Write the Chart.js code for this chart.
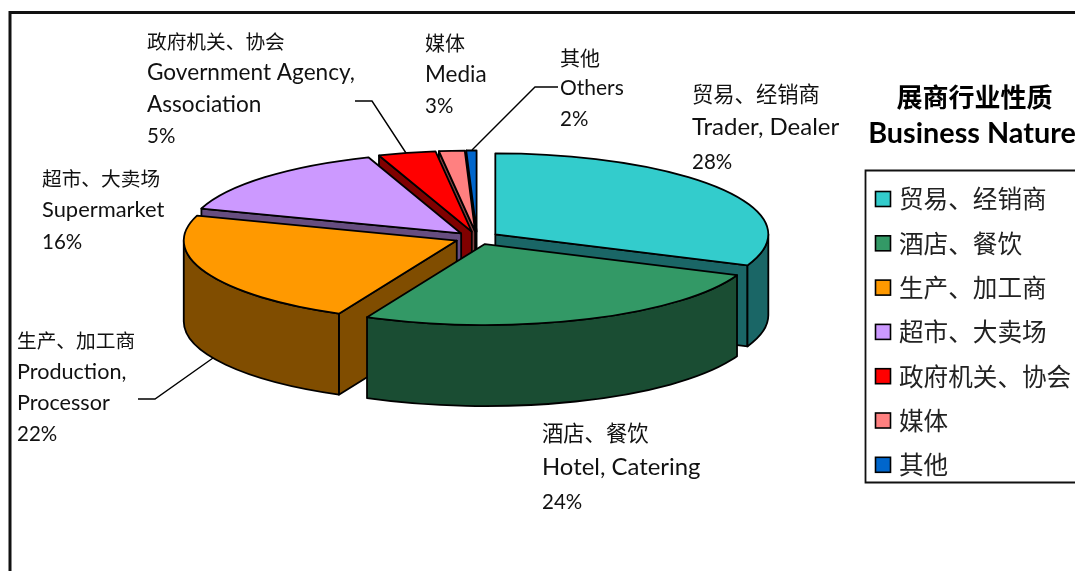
<!DOCTYPE html>
<html><head><meta charset="utf-8">
<style>html,body{margin:0;padding:0;background:#fff;overflow:hidden}canvas{display:block}</style>
<script src="https://cdn.jsdelivr.net/npm/chart.js@4"></script>
</head><body>
<canvas id="c" width="1075" height="571"></canvas>
<script>
const categories = ['贸易、经销商','酒店、餐饮','生产、加工商','超市、大卖场','政府机关、协会','媒体','其他'];
const englishLines = [['Trader, Dealer'],['Hotel, Catering'],['Production,','Processor'],['Supermarket'],['Government Agency,','Association'],['Media'],['Others']];
const shares = [28,24,22,16,5,3,2];
const topColors = ['#33CCCC','#339966','#FF9900','#CC99FF','#FF0000','#FF8080','#0066CC'];
const wallColors = ['#1A6666','#1A4D33','#804D00','#664D80','#800000','#804040','#003366'];
const titleLines = ['展商行业性质','Business Nature'];

const RX = 273, RY = 81, DEPTH = 81;
const LATIN = "Lato, 'Noto Sans CJK SC', sans-serif";
const CJK = "'Noto Sans CJK SC', sans-serif";
const labelStyle = [
 {x:692,ys:[94,127,162],cjk:21.3,lat:24},
 {x:542,ys:[433,467,502],cjk:21.3,lat:23.9},
 {x:17,ys:[341,372,403,434],cjk:19.7,lat:21.6},
 {x:42,ys:[179,210,242],cjk:19.7,lat:21.9},
 {x:147,ys:[42,73,105,136],cjk:19.7,lat:22.6},
 {x:425,ys:[43,75,106],cjk:20,lat:22.5},
 {x:560,ys:[58,88,119],cjk:20,lat:21}
];
const PCT_SIZE = 20.5;
const leaders = [
 [[138,399],[155,399],[213,358]],
 [[355,101],[372,101],[406,153]],
 [[558,87],[535,87],[472,150]]
];

// the 3-D view squeezes the far end of the turn
function viewAngle(a){
 const t = Math.min(1,Math.max(0,(a+Math.PI/2)/(2*Math.PI)));
 const p = 1.14+0.18*Math.pow(t,4);
 return 2*Math.PI*(1-Math.pow(1-t,p))-Math.PI/2;
}

const pie3d = {
 id:'pie3d',
 beforeDatasetsDraw(chart){
  const ctx = chart.ctx;
  const els = chart.getDatasetMeta(0).data;
  const slices = els.map((el,i)=>{
    const p = el.getProps(['x','y','startAngle','endAngle','outerRadius'],true);
    const a0 = viewAngle(p.startAngle), a1 = viewAngle(p.endAngle);
    const mid = (a0+a1)/2;
    const off = (el.options.offset/4)/p.outerRadius;
    return {i,a0,a1,mid,x:p.x+Math.cos(mid)*off*RX, y:p.y+Math.sin(mid)*off*RY};
  }).sort((a,b)=>Math.sin(a.mid)-Math.sin(b.mid));
  ctx.save();
  ctx.lineWidth = 1.8; ctx.strokeStyle = '#000'; ctx.lineJoin = 'round';
  const paint = f => { ctx.fillStyle = f; ctx.fill(); ctx.stroke(); };
  for(const s of slices){
    const rim = a => [s.x+Math.cos(a)*RX, s.y+Math.sin(a)*RY];
    const radial = a => {
      const [rx,ry] = rim(a);
      ctx.beginPath(); ctx.moveTo(s.x,s.y); ctx.lineTo(rx,ry);
      ctx.lineTo(rx,ry+DEPTH); ctx.lineTo(s.x,s.y+DEPTH); ctx.closePath();
      paint(wallColors[s.i]);
    };
    if(-Math.cos(s.a0)>0) radial(s.a0);
    if(Math.cos(s.a1)>0) radial(s.a1);
    const f0 = Math.max(s.a0,0), f1 = Math.min(s.a1,Math.PI);
    if(f1>f0){
      ctx.beginPath();
      ctx.ellipse(s.x,s.y,RX,RY,0,f0,f1);
      ctx.ellipse(s.x,s.y+DEPTH,RX,RY,0,f1,f0,true);
      ctx.closePath();
      paint(wallColors[s.i]);
    }
    ctx.beginPath(); ctx.moveTo(s.x,s.y);
    ctx.ellipse(s.x,s.y,RX,RY,0,s.a0,s.a1);
    ctx.closePath();
    paint(topColors[s.i]);
  }
  ctx.restore();
  return false;
 },
 afterDraw(chart){
  const ctx = chart.ctx;
  ctx.save();
  ctx.strokeStyle='#111'; ctx.lineWidth=3;
  ctx.beginPath(); ctx.moveTo(10,571); ctx.lineTo(10,12.5); ctx.lineTo(1075,12.5); ctx.stroke();
  ctx.strokeStyle='#000'; ctx.lineWidth=1.4;
  for(const l of leaders){ ctx.beginPath(); l.forEach(([x,y],i)=>i?ctx.lineTo(x,y):ctx.moveTo(x,y)); ctx.stroke(); }
  ctx.fillStyle='#111'; ctx.textBaseline='middle'; ctx.textAlign='left';
  categories.forEach((zh,i)=>{
    const st = labelStyle[i];
    const lines=[zh,...englishLines[i],shares[i]+'%'];
    lines.forEach((t,k)=>{
      const size = k===lines.length-1 ? PCT_SIZE : st.lat;
      ctx.font = (k===0?`${st.cjk}px ${CJK}`:`${size}px ${LATIN}`);
      ctx.fillText(t,st.x,st.ys[k]);
    });
  });
  ctx.textAlign='center'; ctx.fillStyle='#000';
  ctx.font=`bold 26px ${CJK}`; ctx.fillText(titleLines[0],974.5,97);
  ctx.font=`bold 28.8px ${LATIN}`; ctx.fillText(titleLines[1],972,134);
  ctx.textAlign='left';
  ctx.strokeStyle='#111'; ctx.lineWidth=1.8;
  ctx.beginPath(); ctx.moveTo(1075,170.5); ctx.lineTo(865.5,170.5); ctx.lineTo(865.5,482.5); ctx.lineTo(1075,482.5); ctx.stroke();
  categories.forEach((zh,i)=>{
    const y = 199+i*44.3;
    ctx.fillStyle=topColors[i]; ctx.lineWidth=1.6; ctx.strokeStyle='#000';
    ctx.fillRect(875.5,y-7.5,15,15); ctx.strokeRect(875.5,y-7.5,15,15);
    ctx.fillStyle='#222'; ctx.font=`24.6px ${CJK}`;
    ctx.fillText(zh,899,y);
  });
  ctx.restore();
 }
};

new Chart(document.getElementById('c'),{
 type:'pie',
 data:{labels:categories,datasets:[{data:shares,backgroundColor:topColors,borderColor:'#000',borderWidth:1,offset:66}]},
 options:{
  responsive:false,animation:false,
  layout:{padding:{left:237,right:358,top:0,bottom:95}},
  plugins:{legend:{display:false},tooltip:{enabled:false},title:{display:false}},
  events:[]
 },
 plugins:[pie3d]
});
</script>
</body></html>
